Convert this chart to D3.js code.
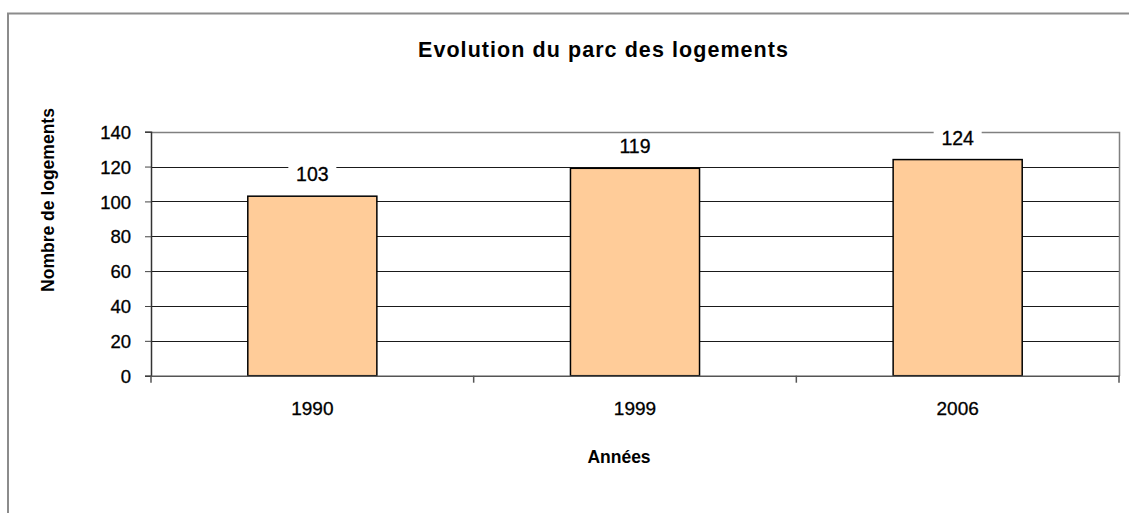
<!DOCTYPE html>
<html>
<head>
<meta charset="utf-8">
<script src="https://cdn.jsdelivr.net/npm/d3@7"></script>
<style>
  html, body { margin: 0; padding: 0; background: #fff; }
  svg { display: block; }
  text { font-family: "Liberation Sans", Arial, sans-serif; fill: #000; }
</style>
</head>
<body>
<svg id="chart" width="1129" height="513"></svg>
<script>
const categories = ["1990", "1999", "2006"];
const values = [103, 119, 124];
const yTicks = [0, 20, 40, 60, 80, 100, 120, 140];
const title = "Evolution du parc des logements";
const xTitle = "Années";
const yTitle = "Nombre de logements";

const svg = d3.select("#chart");
const W = 1129, H = 513;
const plot = { left: 151, right: 1119, top: 131.7, bottom: 375.7 };

// outer border
svg.append("rect").attr("x", 8).attr("y", 13.5).attr("width", W + 20).attr("height", H + 20)
  .attr("fill", "#fff").attr("stroke", "#8c8c8c").attr("stroke-width", 2);

const x = d3.scaleBand().domain(categories).range([plot.left, plot.right]).paddingInner(0.6).paddingOuter(0.3);
const xb = d3.scaleBand().domain(categories).range([plot.left, plot.right]);
const y = d3.scaleLinear().domain([0, 140]).range([plot.bottom, plot.top]);

// gridlines
svg.append("g").selectAll("line").data(yTicks.filter(t => t > 0 && t < 140)).join("line")
  .attr("x1", plot.left).attr("x2", plot.right)
  .attr("y1", d => Math.round(y(d)) + 0.5).attr("y2", d => Math.round(y(d)) + 0.5)
  .attr("stroke", "#1a1a1a").attr("stroke-width", 1);

// plot border top & right
svg.append("path")
  .attr("d", `M${plot.left},${Math.round(plot.top)+0.5}H${plot.right+0.5}V${Math.round(plot.bottom)}`)
  .attr("fill", "none").attr("stroke", "#808080").attr("stroke-width", 1.5);

// y axis
const yAxis = d3.axisLeft(y).tickValues(yTicks).tickSize(6).tickPadding(14).tickFormat(d3.format("d"));
const gy = svg.append("g").attr("transform", `translate(${plot.left},0)`).call(yAxis);
gy.select(".domain").attr("stroke", "#333").attr("stroke-width", 1.5);
gy.selectAll(".tick line").attr("stroke", "#444");
gy.selectAll(".tick text").style("font-family", '"Liberation Sans", Arial, sans-serif')
  .style("font-size", "18.5px").attr("fill", "#000").attr("dy", "0.36em")
  .attr("stroke", "#000").attr("stroke-width", 0.3);

// bars
svg.append("g").selectAll("rect").data(values).join("rect")
  .attr("x", (d, i) => x(categories[i]))
  .attr("width", x.bandwidth())
  .attr("y", d => y(d))
  .attr("height", d => y(0) - y(d))
  .attr("fill", "#FFCC99").attr("stroke", "#000").attr("stroke-width", 1.5);

// x axis
const xAxis = d3.axisBottom(xb).tickSize(0).tickPadding(0).tickFormat(() => "");
const gx = svg.append("g").attr("transform", `translate(0,${plot.bottom})`).call(xAxis);
gx.select(".domain").attr("stroke", "#555").attr("stroke-width", 1.5);
const boundaries = categories.map(c => xb(c)).concat([plot.right]);
gx.selectAll(".btick").data(boundaries).join("line").attr("class", "btick")
  .attr("x1", d => d).attr("x2", d => d).attr("y1", 0).attr("y2", 7)
  .attr("stroke", "#555").attr("stroke-width", 1.5);

// x labels
svg.append("g").selectAll("text").data(categories).join("text")
  .attr("x", d => xb(d) + xb.bandwidth() / 2)
  .attr("y", 415)
  .attr("text-anchor", "middle")
  .style("font-size", "19px")
  .attr("stroke", "#000").attr("stroke-width", 0.3)
  .text(d => d);

// data labels with white background
const lab = svg.append("g").selectAll("g").data(values).join("g");
lab.append("rect")
  .attr("x", (d, i) => x(categories[i]) + x.bandwidth() / 2 - 24)
  .attr("y", d => y(d) - 34)
  .attr("width", 48).attr("height", 26)
  .attr("fill", "#fff");
lab.append("text")
  .attr("x", (d, i) => x(categories[i]) + x.bandwidth() / 2)
  .attr("y", d => y(d) - 15)
  .attr("text-anchor", "middle")
  .style("font-size", "19.5px")
  .attr("stroke", "#000").attr("stroke-width", 0.3)
  .text(d => d);

// title
svg.append("text").attr("x", 603).attr("y", 57).attr("text-anchor", "middle")
  .style("font-size", "21.5px").style("font-weight", "bold")
  .attr("textLength", 370).attr("lengthAdjust", "spacing")
  .text(title);

// axis titles
svg.append("text").attr("x", 619).attr("y", 463).attr("text-anchor", "middle")
  .style("font-size", "17.5px").style("font-weight", "bold").text(xTitle);

svg.append("text").attr("transform", "translate(54,200) rotate(-90)")
  .attr("text-anchor", "middle")
  .style("font-size", "17.5px").style("font-weight", "bold").text(yTitle);
</script>
</body>
</html>
